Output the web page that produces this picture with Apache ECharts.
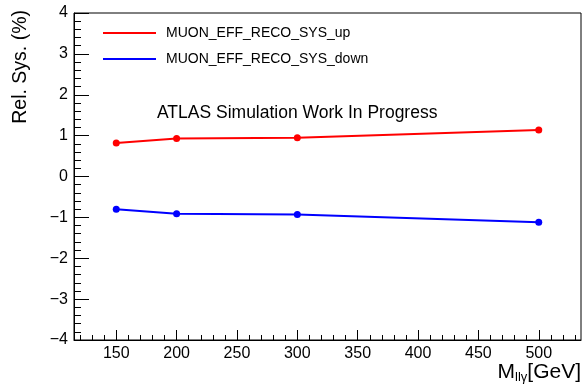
<!DOCTYPE html>
<html>
<head>
<meta charset="utf-8">
<script src="https://cdn.jsdelivr.net/npm/echarts@6/dist/echarts.min.js"></script>
<style>
  html, body { margin: 0; padding: 0; background: #fff; }
  #chart { width: 583px; height: 392px; }
</style>
</head>
<body>
<div id="chart"></div>
<script>
  // mass points (GeV)
  var massPoints = [150, 200, 300, 500];
  var sysUp = [0.82, 0.93, 0.95, 1.14];
  var sysDown = [-0.80, -0.91, -0.93, -1.12];
  var seriesNames = ['MUON_EFF_RECO_SYS_up', 'MUON_EFF_RECO_SYS_down'];
  var xMajorTicks = [150, 200, 250, 300, 350, 400, 450, 500];
  var xMinorTicks = [];
  for (var t = 120; t <= 530; t += 10) xMinorTicks.push(t);

  var font = 'Liberation Sans, Arial, sans-serif';
  var minus = function (v) { return v < 0 ? '\u2212' + Math.abs(v) : String(v); };

  var myChart = echarts.init(document.getElementById('chart'));
  var option = {
    animation: false,
    textStyle: { fontFamily: font },
    grid: {
      left: 74, right: 2, top: 13, bottom: 52,
      show: true, borderColor: '#000', borderWidth: 1, backgroundColor: 'transparent'
    },
    legend: {
      orient: 'vertical',
      left: 103, top: 26, padding: 0,
      itemWidth: 53, itemHeight: 2, itemGap: 12,
      icon: 'rect',
      data: seriesNames,
      textStyle: { fontSize: 14, color: '#000', fontFamily: font, padding: [0, 0, 0, 5] }
    },
    xAxis: [{
      type: 'value', min: 115, max: 535,
      axisLine: { onZero: false, lineStyle: { color: '#000', width: 1 } },
      axisTick: { inside: true, length: 10, customValues: xMajorTicks, lineStyle: { color: '#000' } },
      axisLabel: { customValues: xMajorTicks, fontSize: 16, color: '#000', margin: 6, fontFamily: font },
      splitLine: { show: false }
    }, {
      type: 'value', min: 115, max: 535, position: 'bottom',
      axisLine: { show: false, onZero: false },
      axisTick: { inside: true, length: 5, customValues: xMinorTicks, lineStyle: { color: '#000' } },
      axisLabel: { show: false },
      splitLine: { show: false }
    }],
    yAxis: {
      type: 'value', min: -4, max: 4, interval: 1,
      axisLine: { show: true, onZero: false, lineStyle: { color: '#000', width: 1 } },
      axisTick: { inside: true, length: 15, lineStyle: { color: '#000' } },
      minorTick: { show: true, splitNumber: 5, length: 7, lineStyle: { color: '#000' } },
      axisLabel: { fontSize: 16, color: '#000', margin: 6, fontFamily: font, formatter: minus },
      splitLine: { show: false },
      minorSplitLine: { show: false }
    },
    graphic: [
      {
        type: 'text', left: 157, top: 104,
        style: { text: 'ATLAS Simulation Work In Progress', fontSize: 17.5, fill: '#000', fontFamily: font }
      },
      {
        type: 'text', right: 2, top: 362,
        style: {
          text: '{m|M}{s|llγ}{m|[GeV]}',
          rich: {
            m: { fontSize: 21, fontFamily: font, fill: '#000' },
            s: { fontSize: 13, fontFamily: font, fill: '#000', verticalAlign: 'bottom', padding: [10, 0, 0, 0] }
          }
        }
      },
      {
        type: 'text', left: 11, top: 10, rotation: Math.PI / 2,
        style: { text: 'Rel. Sys. (%)', fontSize: 19.5, fill: '#000', fontFamily: font }
      }
    ],
    series: [{
      name: seriesNames[0], type: 'line', xAxisIndex: 0,
      data: massPoints.map(function (x, i) { return [x, sysUp[i]]; }),
      symbol: 'circle', symbolSize: 7,
      itemStyle: { color: '#ff0000' },
      lineStyle: { color: '#ff0000', width: 2 }
    }, {
      name: seriesNames[1], type: 'line', xAxisIndex: 0,
      data: massPoints.map(function (x, i) { return [x, sysDown[i]]; }),
      symbol: 'circle', symbolSize: 7,
      itemStyle: { color: '#0000ff' },
      lineStyle: { color: '#0000ff', width: 2 }
    }]
  };
  myChart.setOption(option);
</script>
</body>
</html>
